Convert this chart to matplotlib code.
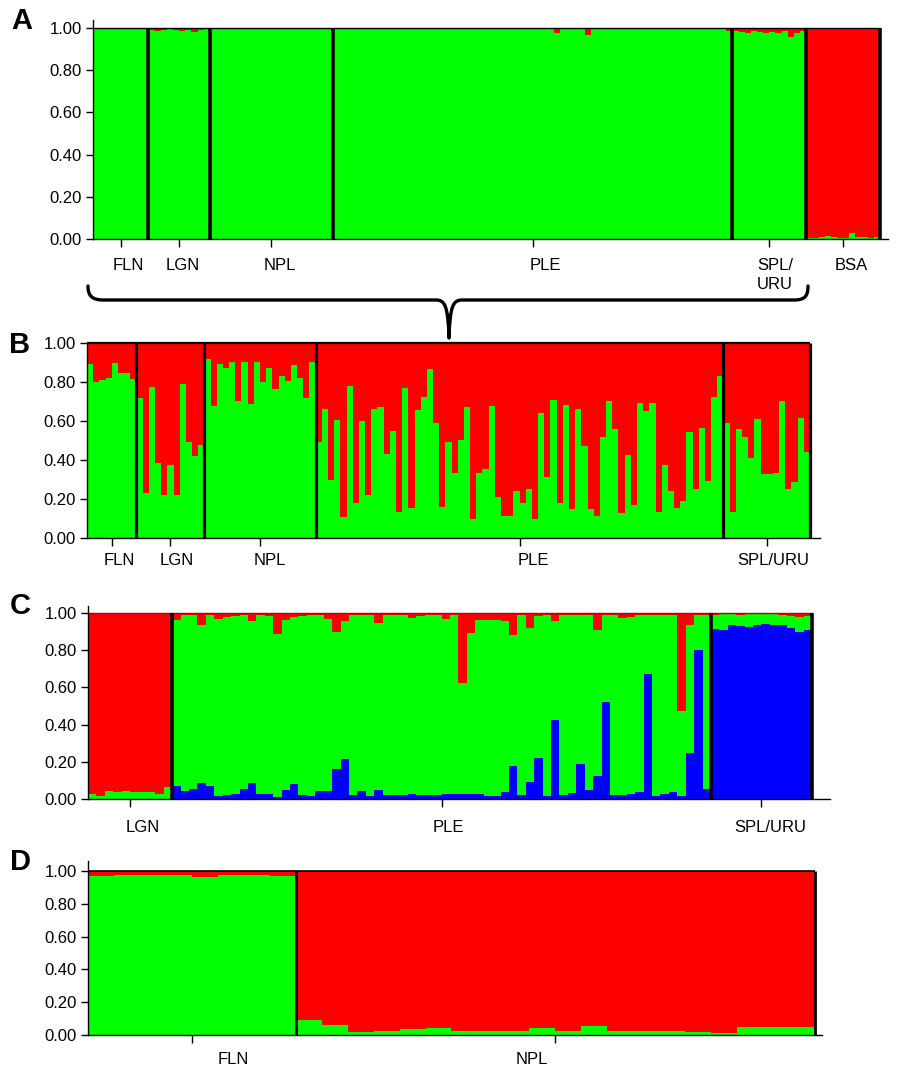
import matplotlib
matplotlib.use("Agg")
import matplotlib.pyplot as plt
import numpy as np
from matplotlib.path import Path
from matplotlib.patches import PathPatch
from matplotlib.transforms import Affine2D

plt.rcParams['font.family'] = ['Liberation Sans', 'DejaVu Sans']

W, H = 899, 1068
GREEN, RED, BLUE = '#00FF00', '#FF0000', '#0000FF'

# ---------------- data ----------------
# Panel A (green fraction per individual; red = rest)
A_groups = ['FLN', 'LGN', 'NPL', 'PLE', 'SPL/\nURU', 'BSA']
A_FLN = [0.998, 0.997, 0.998, 0.998, 0.997, 0.998, 0.998, 0.997, 0.998]
A_LGN = [0.99, 0.985, 0.99, 0.995, 0.99, 0.985, 0.99, 0.982, 0.99, 0.993]
A_NPL = [0.998, 0.997, 0.998, 0.998, 0.997, 0.998, 0.998, 0.997, 0.998, 0.998,
         0.997, 0.998, 0.998, 0.997, 0.998, 0.998, 0.997, 0.998, 0.998, 0.997]
A_PLE = [0.993, 0.995, 0.993, 0.994, 0.993, 0.995, 0.993, 0.993, 0.995, 0.993,
         0.994, 0.993, 0.995, 0.993, 0.993, 0.995, 0.993, 0.994, 0.993, 0.995,
         0.993, 0.993, 0.995, 0.993, 0.994, 0.993, 0.995, 0.993, 0.993, 0.995,
         0.993, 0.994, 0.993, 0.995, 0.993, 0.993, 0.978, 0.993, 0.994, 0.993,
         0.995, 0.965, 0.993, 0.994, 0.993, 0.995, 0.993, 0.993, 0.995, 0.993,
         0.994, 0.993, 0.995, 0.993, 0.993, 0.995, 0.993, 0.994, 0.993, 0.995,
         0.993, 0.993, 0.995, 0.993, 0.988]
A_SPL = [0.985, 0.98, 0.975, 0.985, 0.98, 0.975, 0.98, 0.975, 0.985, 0.955, 0.975, 0.985]
A_BSA = [0.005, 0.005, 0.01, 0.012, 0.01, 0.005, 0.003, 0.03, 0.01, 0.008, 0.005, 0.008]

# Panel B (green fraction)
B_groups = ['FLN', 'LGN', 'NPL', 'PLE', 'SPL/URU']
B_FLN = [0.89, 0.80, 0.81, 0.82, 0.90, 0.845, 0.845, 0.815]
B_LGN = [0.72, 0.23, 0.775, 0.385, 0.22, 0.375, 0.22, 0.79, 0.49, 0.42, 0.475]
B_NPL = [0.92, 0.675, 0.89, 0.87, 0.905, 0.705, 0.905, 0.685, 0.905, 0.80,
         0.87, 0.765, 0.83, 0.805, 0.885, 0.82, 0.72, 0.905]
B_PLE = [0.49, 0.66, 0.30, 0.605, 0.11, 0.78, 0.18, 0.60, 0.22, 0.66,
         0.67, 0.43, 0.55, 0.135, 0.77, 0.155, 0.655, 0.725, 0.865, 0.59,
         0.16, 0.49, 0.335, 0.505, 0.67, 0.10, 0.335, 0.355, 0.675, 0.21,
         0.115, 0.115, 0.24, 0.18, 0.25, 0.10, 0.64, 0.315, 0.71,
         0.18, 0.68, 0.15, 0.66, 0.47, 0.15, 0.115, 0.52, 0.705, 0.56,
         0.13, 0.425, 0.17, 0.69, 0.65, 0.69, 0.135, 0.375, 0.24, 0.155,
         0.19, 0.545, 0.25, 0.565, 0.29, 0.725, 0.83]
B_SPL = [0.59, 0.135, 0.56, 0.52, 0.41, 0.61, 0.33, 0.33, 0.335, 0.705,
         0.25, 0.285, 0.615, 0.44]

# Panel C (three clusters: blue bottom, green middle, red top)
C_groups = ['LGN', 'PLE', 'SPL/URU']
C_LGN_blue = [0.0] * 10
C_LGN_green = [0.025, 0.015, 0.045, 0.04, 0.045, 0.04, 0.035, 0.04, 0.025, 0.065]
C_PLE_blue = [0.071, 0.041, 0.054, 0.086, 0.068, 0.018, 0.023, 0.029, 0.055, 0.086,
              0.029, 0.025, 0.011, 0.05, 0.08, 0.023, 0.018, 0.045, 0.041, 0.16,
              0.214, 0.023, 0.045, 0.018, 0.05, 0.023, 0.023, 0.023, 0.029, 0.023,
              0.02, 0.02, 0.025, 0.029, 0.029, 0.027, 0.029, 0.018, 0.014, 0.037,
              0.175, 0.023, 0.089, 0.223, 0.018, 0.425, 0.023, 0.032, 0.19, 0.05,
              0.125, 0.52, 0.023, 0.023, 0.029, 0.037, 0.671, 0.018, 0.027, 0.037,
              0.018, 0.25, 0.80, 0.054]
C_PLE_red = [0.036, 0.012, 0.012, 0.0625, 0.012, 0.03, 0.02, 0.018, 0.012, 0.043,
             0.012, 0.014, 0.114, 0.04, 0.02, 0.014, 0.012, 0.012, 0.03, 0.10,
             0.043, 0.012, 0.012, 0.012, 0.052, 0.012, 0.012, 0.012, 0.027, 0.018,
             0.012, 0.012, 0.03, 0.012, 0.379, 0.11, 0.036, 0.04, 0.04, 0.045,
             0.116, 0.012, 0.08, 0.016, 0.012, 0.043, 0.012, 0.012, 0.012, 0.012,
             0.093, 0.012, 0.012, 0.027, 0.02, 0.012, 0.012, 0.012, 0.012, 0.012,
             0.525, 0.066, 0.012, 0.012]
C_SPL_blue = [0.916, 0.907, 0.9375, 0.929, 0.925, 0.934, 0.943, 0.934, 0.934, 0.921, 0.898, 0.909]
C_SPL_red = [0.01, 0.006, 0.006, 0.01, 0.006, 0.006, 0.006, 0.006, 0.01, 0.015, 0.022, 0.015]

# Panel D (green fraction)
D_groups = ['FLN', 'NPL']
D_FLN = [0.972, 0.976, 0.976, 0.976, 0.965, 0.976, 0.977, 0.972]
D_NPL = [0.09, 0.06, 0.017, 0.027, 0.037, 0.042, 0.023, 0.027, 0.027, 0.042,
         0.023, 0.052, 0.027, 0.027, 0.027, 0.02, 0.015, 0.047, 0.047, 0.047]

# ---------------- layout ----------------
def make_axes(left, bars_end, right, y1, y0, ytop, n):
    ax = fig.add_axes([left / W, 1 - y0 / H, (right - left) / W, ytop * (y0 - y1) / H])
    bw = (bars_end - left) / n
    ax.set_xlim(0, n + (right - bars_end) / bw)
    ax.set_ylim(0, ytop)
    return ax


def style_axes(ax, n, groups, sizes, label_shift, label_pad, sep_lw, top_color, top_lw):
    bounds = np.cumsum(sizes)
    starts = bounds - np.array(sizes)
    centers = starts + np.array(sizes) / 2
    ax.vlines(bounds, 0, 1, colors='black', lw=sep_lw, zorder=5, clip_on=False)
    ax.hlines(1, 0, n, colors=top_color, lw=top_lw, zorder=4, clip_on=False)
    for s in ['top', 'right']:
        ax.spines[s].set_visible(False)
    for s in ['left', 'bottom']:
        ax.spines[s].set_linewidth(1.0)
        ax.spines[s].set_zorder(6)
    ax.set_yticks([0, 0.2, 0.4, 0.6, 0.8, 1.0])
    ax.set_yticklabels(['%.2f' % v for v in [0, 0.2, 0.4, 0.6, 0.8, 1.0]])
    ax.tick_params(axis='y', direction='out', length=5, width=1, labelsize=12, pad=3)
    ax.set_xticks(centers)
    ax.set_xticklabels([])
    ax.tick_params(axis='x', direction='out', length=6, width=1)
    for g, c, sh in zip(groups, centers, label_shift):
        ax.annotate(g, xy=(c + sh, 0), xycoords=('data', 'axes fraction'),
                    xytext=(0, -label_pad), textcoords='offset points',
                    ha='center', va='top', fontsize=12, linespacing=1.35)


def bars2(ax, green):
    x = np.arange(len(green))
    g = np.array(green)
    ax.bar(x, g, width=1.0, align='edge', color=GREEN, lw=0, antialiased=False)
    ax.bar(x, 1 - g, bottom=g, width=1.0, align='edge', color=RED, lw=0, antialiased=False)


fig = plt.figure(figsize=(W / 100, H / 100), dpi=100)

# Panel A
A_all = A_FLN + A_LGN + A_NPL + A_PLE + A_SPL + A_BSA
A_sizes = [len(A_FLN), len(A_LGN), len(A_NPL), len(A_PLE), len(A_SPL), len(A_BSA)]
nA = len(A_all)
axA = make_axes(93, 880, 888, 28, 239, 1.04, nA)
bars2(axA, A_all)
style_axes(axA, nA, A_groups, A_sizes, [1.2, 0.6, 1.4, 2.0, 0.9, 1.4], 13.5, 2.6, 'black', 1.0)

# Panel B
B_all = B_FLN + B_LGN + B_NPL + B_PLE + B_SPL
B_sizes = [len(B_FLN), len(B_LGN), len(B_NPL), len(B_PLE), len(B_SPL)]
nB = len(B_all)
axB = make_axes(87, 810, 820, 343, 538, 1.0, nB)
bars2(axB, B_all)
style_axes(axB, nB, B_groups, B_sizes, [1.3, 1.1, 1.6, 2.2, 1.0], 10.5, 2.3, 'black', 1.6)

# Panel C
C_blue = np.array(C_LGN_blue + C_PLE_blue + C_SPL_blue)
C_red_L = [1 - g for g in C_LGN_green]
C_red = np.array(C_red_L + C_PLE_red + C_SPL_red)
C_green = 1 - C_blue - C_red
C_sizes = [len(C_LGN_green), len(C_PLE_blue), len(C_SPL_blue)]
nC = len(C_blue)
axC = make_axes(88, 812, 830, 613, 799, 1.04, nC)
xc = np.arange(nC)
axC.bar(xc, C_blue, width=1.0, align='edge', color=BLUE, lw=0, antialiased=False)
axC.bar(xc, C_green, bottom=C_blue, width=1.0, align='edge', color=GREEN, lw=0, antialiased=False)
axC.bar(xc, C_red, bottom=C_blue + C_green, width=1.0, align='edge', color=RED, lw=0, antialiased=False)
style_axes(axC, nC, C_groups, C_sizes, [1.5, 0.8, 1.0], 15, 2.6, '#b00000', 1.0)

# Panel D
D_all = D_FLN + D_NPL
D_sizes = [len(D_FLN), len(D_NPL)]
nD = len(D_all)
axD = make_axes(88, 815, 822, 871, 1035, 1.06, nD)
bars2(axD, D_all)
style_axes(axD, nD, D_groups, D_sizes, [1.6, -0.9], 12, 2.0, 'black', 1.2)

# Panel letters
for letter, (px, py) in zip('ABCD', [(22, 21), (20, 345), (20, 606), (20, 862)]):
    fig.text(px / W, 1 - py / H, letter, fontsize=21, fontweight='bold',
             ha='center', va='center')

# Curly brace linking panel A groups to panel B
pix = Affine2D().scale(1 / W, -1 / H).translate(0, 1) + fig.transFigure
verts = [(88, 286), (88, 296), (92, 300), (104, 300),
         (436, 300),
         (445, 300), (448, 306), (449, 338),
         (450, 306), (453, 300), (462, 300),
         (794, 300),
         (805, 300), (808, 296), (808, 286)]
codes = [Path.MOVETO, Path.CURVE4, Path.CURVE4, Path.CURVE4,
         Path.LINETO,
         Path.CURVE4, Path.CURVE4, Path.CURVE4,
         Path.CURVE4, Path.CURVE4, Path.CURVE4,
         Path.LINETO,
         Path.CURVE4, Path.CURVE4, Path.CURVE4]
brace = PathPatch(Path(verts, codes), transform=pix, fill=False, lw=2.4,
                  edgecolor='black', capstyle='round', joinstyle='round')
fig.add_artist(brace)

fig.savefig('out.png', dpi=100)
